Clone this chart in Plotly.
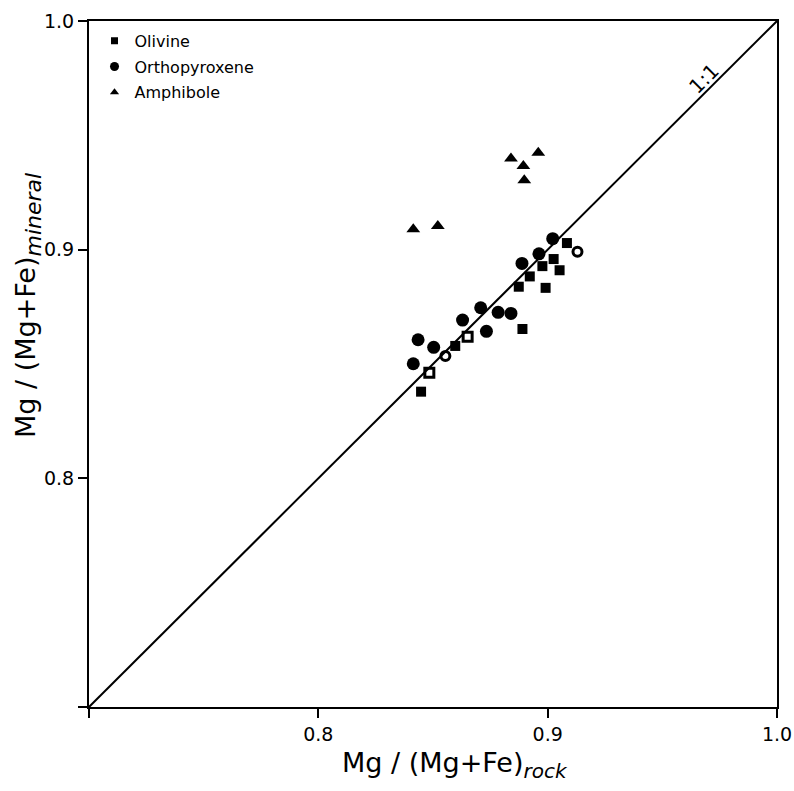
import plotly.graph_objects as go

# Olivine (filled squares)
ol_x = [0.9084, 0.9026, 0.8977, 0.9052, 0.8922, 0.8874, 0.8991, 0.8890, 0.8597, 0.8448]
ol_y = [0.9029, 0.8959, 0.8928, 0.8910, 0.8883, 0.8838, 0.8833, 0.8653, 0.8579, 0.8379]
# Olivine (open squares)
olo_x = [0.8651, 0.8484]
olo_y = [0.8619, 0.8462]
# Orthopyroxene (filled circles)
opx_x = [0.9022, 0.8962, 0.8888, 0.8708, 0.8629, 0.8784, 0.8840, 0.8733, 0.8435, 0.8503, 0.8414]
opx_y = [0.9048, 0.8982, 0.8940, 0.8746, 0.8692, 0.8726, 0.8721, 0.8643, 0.8606, 0.8573, 0.8501]
# Orthopyroxene (open circles)
opxo_x = [0.9130, 0.8554]
opxo_y = [0.8991, 0.8535]
# Amphibole (triangles)
amp_x = [0.8840, 0.8894, 0.8959, 0.8898, 0.8521, 0.8414]
amp_y = [0.9399, 0.9366, 0.9424, 0.9304, 0.9103, 0.9089]
# 1:1 line
line_x = [0.7, 1.0]
line_y = [0.7, 1.0]

tick_vals = [0.7, 0.8, 0.9, 1.0]
tick_text = ["", "0.8", "0.9", "1.0"]

FONT = "DejaVu Sans"
fig = go.Figure()

fig.add_trace(go.Scatter(x=line_x, y=line_y, mode="lines",
                         line=dict(color="black", width=2), showlegend=False, hoverinfo="skip"))

fig.add_trace(go.Scatter(x=ol_x, y=ol_y, mode="markers", showlegend=False,
                         marker=dict(symbol="square", size=10, color="black")))
fig.add_trace(go.Scatter(x=olo_x, y=olo_y, mode="markers", showlegend=False,
                         marker=dict(symbol="square-open", size=9, color="black", line=dict(width=3, color="black"))))
fig.add_trace(go.Scatter(x=opx_x, y=opx_y, mode="markers", showlegend=False,
                         marker=dict(symbol="circle", size=13, color="black")))
fig.add_trace(go.Scatter(x=opxo_x, y=opxo_y, mode="markers", showlegend=False,
                         marker=dict(symbol="circle-open", size=9, color="black", line=dict(width=3, color="black"))))
fig.add_trace(go.Scatter(x=amp_x, y=amp_y, mode="markers", showlegend=False,
                         marker=dict(symbol="triangle-up", size=12, color="black")))

# legend entries
for name, sym, sz, g in [("Olivine", "square", 7, "a"), ("Orthopyroxene", "circle", 9, "b"),
                         ("Amphibole", "triangle-up", 8, "c")]:
    fig.add_trace(go.Scatter(x=[None], y=[None], mode="markers", name=name, legendgroup=g,
                             marker=dict(symbol=sym, size=sz, color="black")))

fig.add_annotation(x=0.968, y=0.9746, text="1:1", showarrow=False, textangle=-45,
                   font=dict(family=FONT, size=20, color="black"))

# axis titles as annotations (positioned as in the original)
fig.add_annotation(xref="paper", yref="paper", x=0.532, y=-0.084, xanchor="center", yanchor="middle",
                   text='Mg / (Mg+Fe)<sub><span style="font-size:20px"><i>rock</i></span></sub>',
                   showarrow=False, font=dict(family=FONT, size=27, color="black"))
fig.add_annotation(xref="paper", yref="paper", x=-0.0887, y=0.586, xanchor="center", yanchor="middle",
                   textangle=-90,
                   text='Mg / (Mg+Fe)<sub><span style="font-size:22px"><i>mineral</i></span></sub>',
                   showarrow=False, font=dict(family=FONT, size=27, color="black"))

axis_common = dict(range=[0.7, 1.0], tickvals=tick_vals, ticktext=tick_text,
                   showgrid=False, zeroline=False, showline=True, linecolor="black",
                   linewidth=2, mirror=True, ticks="outside", ticklen=9, tickwidth=2,
                   tickcolor="black", tickfont=dict(family=FONT, size=19, color="black"))

fig.update_xaxes(**axis_common)
fig.update_yaxes(**axis_common)

fig.update_layout(
    width=794, height=791,
    margin=dict(l=89, r=17, t=21, b=84, autoexpand=False),
    paper_bgcolor="white", plot_bgcolor="white",
    showlegend=True,
    legend=dict(x=0.008, y=0.996, xanchor="left", yanchor="top", bgcolor="rgba(0,0,0,0)",
                font=dict(family=FONT, size=16, color="black"), tracegroupgap=2,
                itemwidth=30, traceorder="grouped"),
)

fig.write_html("out.html")
